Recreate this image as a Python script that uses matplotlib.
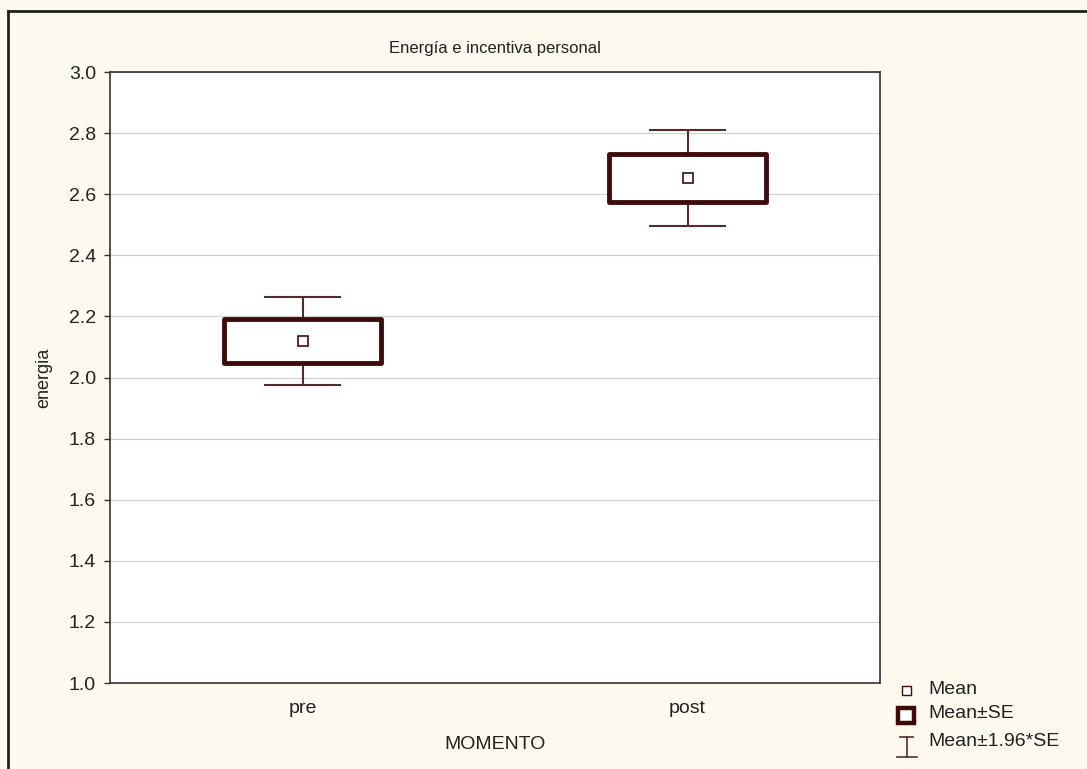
"""Mean / SE / 1.96*SE box plot of 'energia' by MOMENTO (Statistica style)."""

import matplotlib.pyplot as plt
import numpy as np
from matplotlib.lines import Line2D
from matplotlib.patches import Rectangle

plt.rcParams["font.family"] = ["Liberation Sans", "DejaVu Sans"]

groups = ["pre", "post"]
means = [2.12, 2.653]
se = [0.073, 0.08]

BG = "#fdf9ef"
BOX_C = "#3f0a0a"
WHISK_C = "#5a2a2a"
TXT = "#222222"

fig = plt.figure(figsize=(10.87, 7.69), dpi=100, facecolor=BG)
ax = fig.add_axes([110 / 1087, 1 - 683 / 769, 770 / 1087, 611 / 769])
ax.set_facecolor("white")

# frame round the whole picture (open on the right and bottom)
fig.add_artist(Line2D([8 / 1087, 1.0], [1 - 11 / 769, 1 - 11 / 769],
                      transform=fig.transFigure, color="#222222", lw=2))
fig.add_artist(Line2D([8 / 1087, 8 / 1087], [0.0, 1 - 11 / 769],
                      transform=fig.transFigure, color="#222222", lw=2))

xs = np.arange(len(groups))
box_w = 0.41
cap_w = 0.2
for x, m, s in zip(xs, means, se):
    lo1, hi1 = m - 1.96 * s, m + 1.96 * s
    ax.vlines(x, lo1, m - s, color=WHISK_C, lw=1.5, zorder=2)
    ax.vlines(x, m + s, hi1, color=WHISK_C, lw=1.5, zorder=2)
    ax.hlines([lo1, hi1], x - cap_w / 2, x + cap_w / 2, color=WHISK_C, lw=1.5, zorder=2)
    ax.add_patch(Rectangle((x - box_w / 2, m - s), box_w, 2 * s, facecolor="white",
                           edgecolor=BOX_C, lw=3.5, zorder=3, joinstyle="round"))
ax.plot(xs, means, "s", ms=7, mfc="white", mec=BOX_C, mew=1.2, zorder=4, ls="none")

ax.set_xlim(-0.5, 1.5)
ax.set_ylim(1.0, 3.0)
yt = np.arange(1.0, 3.01, 0.2)
ax.set_yticks(yt)
ax.set_yticklabels([f"{v:.1f}" for v in yt])
ax.set_xticks(xs)
ax.set_xticklabels(groups)
ax.tick_params(axis="y", length=4, width=1, color="#333333", labelsize=14, pad=6,
               labelcolor=TXT)
ax.tick_params(axis="x", length=0, labelsize=14, pad=12, labelcolor=TXT)
ax.grid(True, axis="y", color="#d0d0d0", lw=0.9)
ax.set_axisbelow(True)
for sp in ax.spines.values():
    sp.set_color("#333333")
    sp.set_linewidth(1.2)

ax.set_title("Energía e incentiva personal", fontsize=12, color=TXT, pad=14)
ax.set_ylabel("energia", fontsize=13, color=TXT, labelpad=12)
ax.set_xlabel("MOMENTO", fontsize=14, color=TXT, labelpad=14)


# legend drawn in figure pixels, Statistica style
def fx(px):
    return px / 1087


def fy(py):
    return 1 - py / 769


fig.add_artist(Rectangle((fx(902), fy(695)), fx(9), 9 / 769, transform=fig.transFigure,
                         facecolor="white", edgecolor=BOX_C, lw=1.0))
fig.add_artist(Rectangle((fx(898), fy(723)), fx(16), 15 / 769, transform=fig.transFigure,
                         facecolor="white", edgecolor=BOX_C, lw=3.2))
fig.add_artist(Line2D([fx(900), fx(913)], [fy(737), fy(737)], transform=fig.transFigure,
                      color=WHISK_C, lw=1.2))
fig.add_artist(Line2D([fx(907), fx(907)], [fy(737), fy(757)], transform=fig.transFigure,
                      color=WHISK_C, lw=1.2))
fig.add_artist(Line2D([fx(897), fx(917)], [fy(757), fy(757)], transform=fig.transFigure,
                      color=WHISK_C, lw=1.2))
for label, py in [("Mean", 690), ("Mean±SE", 714), ("Mean±1.96*SE", 742)]:
    fig.text(fx(928), fy(py), label, fontsize=14, color=TXT, va="center", ha="left")

fig.savefig("out.png", dpi=100, facecolor=BG)
